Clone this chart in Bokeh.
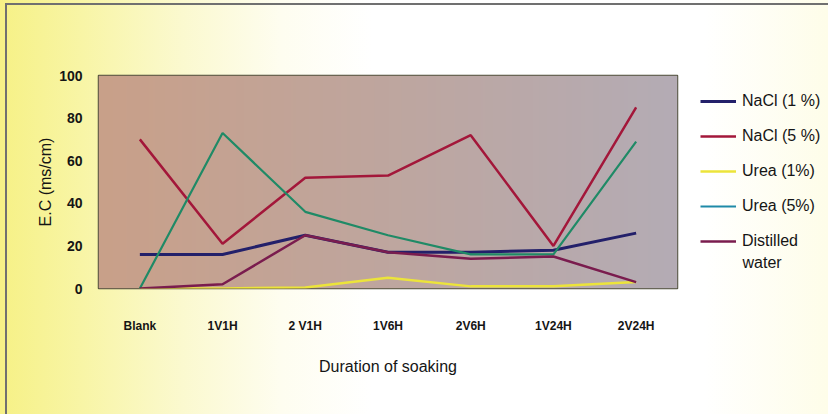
import numpy as np
from bokeh.plotting import figure
from bokeh.layouts import row
from bokeh.models import Range1d, FixedTicker, Legend, LegendItem, Label
from bokeh.embed import file_html
from bokeh.resources import INLINE

# Soaking treatments along the x axis
categories = ["Blank", "1V1H", "2 V1H", "1V6H", "2V6H", "1V24H", "2V24H"]

# Electrical conductivity (ms/cm) per treatment
nacl_1 = [16, 16, 25, 17, 17, 18, 26]
nacl_5 = [70, 21, 52, 53, 72, 20, 85]
urea_1 = [0, 0, 0.5, 5, 1, 1, 3]
urea_5 = [0, 73, 36, 25, 16, 16, 69]
distilled = [0, 2, 25, 17, 14, 15, 3]

series_names = ["NaCl (1 %)", "NaCl (5 %)", "Urea (1%)", "Urea (5%)", "Distilled"]
series_colors = ["#23206a", "#a3173a", "#ece43a", "#1f8a66", "#7a1c4e"]
key_colors = ["#23206a", "#a3173a", "#ece43a", "#1f8aa8", "#7a1c4e"]
series_widths = [3, 2.5, 2.5, 2.2, 2.5]

y_ticks = [0, 20, 40, 60, 80, 100]

xs = list(range(len(categories)))

SANS = "'Liberation Sans', Arial, sans-serif"

p = figure(
    width=690, height=414,
    x_range=Range1d(-0.5, len(categories) - 0.5),
    y_range=Range1d(0, 100),
    output_backend="svg", toolbar_location=None,
    min_border_left=98, min_border_right=13,
    min_border_top=75, min_border_bottom=126,
)
p.border_fill_alpha = 0

# Plot area: horizontal gradient from tan to greyish lavender
left_c = np.array([201, 160, 137])
right_c = np.array([180, 172, 181])
n = 256
t = np.linspace(0, 1, n)
cols = (left_c[None, :] * (1 - t[:, None]) + right_c[None, :] * t[:, None]).astype(np.uint32)
img = np.zeros((2, n), dtype=np.uint32)
view = img.view(dtype=np.uint8).reshape((2, n, 4))
for r in range(2):
    view[r, :, 0] = cols[:, 0]
    view[r, :, 1] = cols[:, 1]
    view[r, :, 2] = cols[:, 2]
    view[r, :, 3] = 255
p.image_rgba(image=[img], x=-0.5, y=0, dw=len(categories), dh=100, level="image")

p.outline_line_color = "#4f4f3a"
p.outline_line_width = 1.5
p.xgrid.visible = False
p.ygrid.visible = False

# Series
series = [nacl_1, nacl_5, urea_1, urea_5, distilled]
for ys, c, w in zip(series, series_colors, series_widths):
    p.line(xs, ys, line_color=c, line_width=w)

# Axes
p.xaxis.ticker = FixedTicker(ticks=xs)
p.xaxis.major_label_overrides = {i: c for i, c in enumerate(categories)}
p.yaxis.ticker = FixedTicker(ticks=y_ticks)
for ax in (p.xaxis[0], p.yaxis[0]):
    ax.axis_line_color = None
    ax.major_tick_line_color = None
    ax.minor_tick_line_color = None
    ax.major_tick_out = 0
    ax.major_tick_in = 0
    ax.major_label_text_font = SANS
    ax.major_label_text_font_style = "bold"
    ax.major_label_text_color = "#151515"
    ax.axis_label_text_font = SANS
    ax.axis_label_text_font_style = "normal"
    ax.axis_label_text_font_size = "16px"
    ax.axis_label_text_color = "#151515"

p.xaxis.major_label_text_font_size = "12px"
p.xaxis.major_label_standoff = 30
p.xaxis.axis_label = "Duration of soaking"
p.xaxis.axis_label_standoff = 22

p.yaxis.major_label_text_font_size = "14px"
p.yaxis.major_label_standoff = 16
p.yaxis.axis_label = "E.C (ms/cm)"
p.yaxis.axis_label_standoff = 2

# Key panel to the right of the chart; its frame lines up with the chart's
# frame (rows 75..288), so the y range is set to pixel units measured from
# the bottom of the page.
k = figure(
    width=138, height=414,
    x_range=Range1d(0, 138), y_range=Range1d(126, 339),
    output_backend="svg", toolbar_location=None,
    min_border_left=0, min_border_right=0,
    min_border_top=75, min_border_bottom=126,
)
k.axis.visible = False
k.grid.visible = False
k.outline_line_color = None
k.background_fill_alpha = 0
k.border_fill_alpha = 0

items = []
for name, c, w in zip(series_names, key_colors, series_widths):
    rr = k.line([-10, -5], [-10, -5], line_color=c, line_width=w)
    items.append(LegendItem(label=name, renderers=[rr]))

legend = Legend(
    items=items,
    location=(10, 38),
    background_fill_alpha=0,
    border_line_color=None,
    padding=0, margin=0,
    glyph_width=36, glyph_height=18, label_height=18,
    spacing=17, label_standoff=6,
    label_text_font=SANS, label_text_font_size="16px",
    label_text_color="#151515",
)
k.add_layout(legend)

# Second line of the last key entry
k.add_layout(Label(
    x=52, y=152, text="water",
    text_font=SANS, text_font_size="16px", text_color="#151515",
    text_baseline="middle", text_align="left",
))

layout = row(p, k, spacing=0)
# Page backdrop: yellow wash on the left fading to white, thin frame lines
layout.styles = {
    "background": (
        "linear-gradient(#707070,#707070) 5px 3px / 2px 411px no-repeat, "
        "linear-gradient(#707070,#707070) 5px 3px / 823px 2px no-repeat, "
        "linear-gradient(90deg, #f6f186 0%, #f8f5a6 10%, #fbf9cf 22%, "
        "#fefdf0 34%, #ffffff 45%, #ffffff 85%, #fefde9 100%)"
    )
}

open("out.html", "w").write(file_html(layout, INLINE))
